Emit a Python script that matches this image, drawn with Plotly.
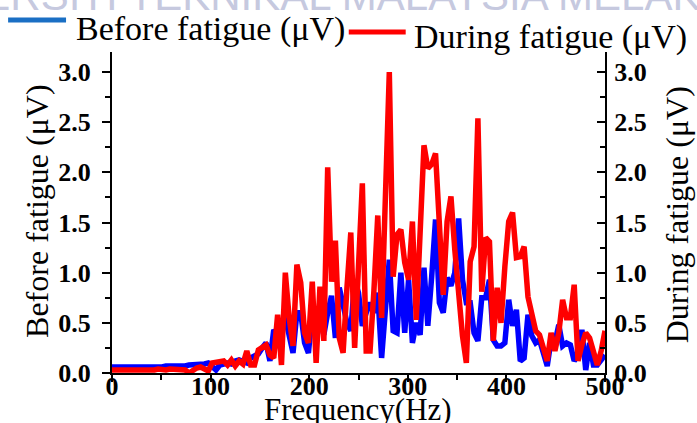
import numpy as np
import plotly.graph_objects as go

# ---------------- data ----------------
n_points = 129
frequency_hz = np.linspace(0, 500, n_points)

before_fatigue_uv = [
    0.06, 0.06, 0.05, 0.06, 0.06, 0.05, 0.06, 0.06, 0.05, 0.06,
    0.06, 0.06, 0.06, 0.06, 0.07, 0.07, 0.06, 0.07, 0.07, 0.07,
    0.08, 0.08, 0.08, 0.09, 0.09, 0.10, 0.06, 0.03, 0.08, 0.09,
    0.10, 0.09, 0.12, 0.13, 0.11, 0.10, 0.15, 0.17, 0.19, 0.25,
    0.30, 0.12, 0.43, 0.38, 0.45, 0.55, 0.37, 0.20, 0.60, 0.60,
    0.30, 0.20, 0.60, 0.50, 0.58, 0.38, 0.60, 0.77, 0.35, 0.85,
    0.68, 0.50, 0.42, 0.93, 0.80, 0.47, 0.60, 0.70, 0.60, 0.80,
    0.15, 0.63, 1.13, 0.42, 0.40, 1.00, 0.40, 0.93, 0.30, 0.50,
    0.38, 1.05, 0.47, 0.96, 1.53, 0.70, 0.60, 0.95, 0.87, 1.00,
    1.54, 0.93, 0.70, 0.70, 0.40, 0.32, 0.75, 0.75, 0.93, 0.33,
    0.27, 0.27, 0.30, 0.73, 0.47, 0.63, 0.12, 0.15, 0.58, 0.37,
    0.30, 0.33, 0.22, 0.07, 0.33, 0.30, 0.48, 0.27, 0.30, 0.28,
    0.12, 0.18, 0.43, 0.03, 0.30, 0.08, 0.08, 0.13, 0.18,
]

during_fatigue_uv = [
    0.03, 0.03, 0.03, 0.03, 0.02, 0.03, 0.03, 0.03, 0.03, 0.02,
    0.03, 0.03, 0.04, 0.03, 0.03, 0.04, 0.04, 0.03, 0.04, 0.03,
    0.00, 0.03, 0.05, 0.06, 0.04, 0.02, 0.10, 0.11, 0.11, 0.12,
    0.08, 0.13, 0.07, 0.12, 0.09, 0.22, 0.08, 0.08, 0.23, 0.25,
    0.28, 0.18, 0.15, 0.58, 0.08, 1.00, 0.55, 0.27, 1.08, 0.90,
    0.40, 0.30, 0.91, 0.10, 0.86, 0.32, 2.05, 0.91, 1.32, 0.35,
    0.20, 0.85, 1.40, 0.25, 1.05, 1.89, 0.22, 0.22, 0.82, 1.57,
    0.55, 1.70, 3.00, 0.96, 1.38, 1.43, 1.10, 0.93, 1.51, 0.53,
    1.40, 2.27, 2.04, 2.08, 2.19, 1.35, 0.78, 1.51, 1.76, 1.23,
    0.76, 0.37, 0.10, 1.11, 1.26, 2.54, 0.81, 1.35, 1.31, 0.32,
    0.85, 0.50, 1.06, 1.51, 1.60, 1.15, 1.16, 1.26, 0.76, 0.60,
    0.42, 0.38, 0.25, 0.12, 0.40, 0.22, 0.40, 0.73, 0.55, 0.55,
    0.88, 0.12, 0.28, 0.40, 0.35, 0.23, 0.08, 0.22, 0.42,
]

x_tick_values = [0, 100, 200, 300, 400, 500]
y_tick_values = [0.0, 0.5, 1.0, 1.5, 2.0, 2.5, 3.0]
label_before = "Before fatigue (\u03bcV)"
label_during = "During fatigue (\u03bcV)"
x_title = "Frequency(Hz)"
watermark = "UNIVERSITI TEKNIKAL MALAYSIA MELAKA"

# ---------------- layout geometry (pixels) ----------------
W, H = 697, 423
L, R, T, B = 112, 605.5, 52, 373.3
SERIF = "Liberation Serif, Times New Roman, serif"


def px(xp):
    return (xp - L) / (R - L)


def py(yp):
    return (B - yp) / (B - T)


fig = go.Figure()
fig.add_trace(go.Scatter(
    x=frequency_hz, y=before_fatigue_uv, mode="lines", name=label_before,
    line=dict(color="#0000ff", width=5.5), showlegend=False, yaxis="y"))
fig.add_trace(go.Scatter(
    x=frequency_hz, y=during_fatigue_uv, mode="lines", name=label_during,
    line=dict(color="#ff0000", width=5.5), showlegend=False, yaxis="y2"))

tickfont = dict(family=SERIF, size=26, color="black", weight="bold")
common_y = dict(range=[0, 3.2], tickvals=y_tick_values, tickformat=".1f",
                showgrid=False, zeroline=False, showline=True,
                linecolor="black", linewidth=2, tickwidth=2, ticklen=8,
                tickcolor="black", tickfont=tickfont, automargin=False)

fig.update_layout(
    width=W, height=H, template="none",
    paper_bgcolor="white", plot_bgcolor="white",
    margin=dict(l=L, r=W - R, t=T, b=H - B, pad=0),
    showlegend=False,
    xaxis=dict(range=[0, 500], tickvals=x_tick_values, showgrid=False,
               zeroline=False, showline=True, linecolor="black",
               linewidth=2, ticks="outside", ticklen=7, tickwidth=2,
               tickcolor="black", tickfont=tickfont, automargin=False,
               ticklabelstandoff=-18,
               minor=dict(dtick=50, ticks="outside", ticklen=5,
                          tickwidth=1.5, tickcolor="black", showgrid=False)),
    yaxis=dict(**common_y, ticks="outside", side="left",
               ticklabelstandoff=6,
               minor=dict(dtick=0.25, ticks="outside", ticklen=5,
                          tickwidth=1.5, tickcolor="black", showgrid=False)),
    yaxis2=dict(**common_y, ticks="inside", side="right", overlaying="y",
                ticklabelstandoff=2,
                minor=dict(dtick=0.25, ticks="inside", ticklen=5,
                           tickwidth=1.5, tickcolor="black", showgrid=False)),
)

annotations = [
    # watermark (cut by the top edge, as in the source)
    dict(text=watermark, x=px(-120), y=py(21), xanchor="left",
         yanchor="bottom", showarrow=False,
         font=dict(family="Liberation Sans, Arial, sans-serif", size=42,
                   color="#c6c9df")),
    dict(text=label_before, x=px(74), y=py(29), xanchor="left",
         yanchor="middle", showarrow=False,
         font=dict(family=SERIF, size=34, color="black")),
    dict(text=label_during, x=px(412), y=py(37), xanchor="left",
         yanchor="middle", showarrow=False,
         font=dict(family=SERIF, size=34, color="black")),
    dict(text=label_before, x=px(37), y=py(212), xanchor="center",
         yanchor="middle", textangle=-90, showarrow=False,
         font=dict(family=SERIF, size=32, color="black")),
    dict(text=label_during, x=px(677), y=py(215), xanchor="center",
         yanchor="middle", textangle=-90, showarrow=False,
         font=dict(family=SERIF, size=32, color="black")),
    dict(text=x_title, x=px(358), y=py(410), xanchor="center",
         yanchor="middle", showarrow=False,
         font=dict(family=SERIF, size=31, color="black")),
]
for a in annotations:
    a.update(xref="paper", yref="paper")
fig.update_layout(annotations=annotations)

fig.update_layout(shapes=[
    dict(type="line", xref="paper", yref="paper", x0=px(8), x1=px(66),
         y0=py(20), y1=py(20), line=dict(color="#1a6fc4", width=5)),
    dict(type="line", xref="paper", yref="paper", x0=px(349), x1=px(406),
         y0=py(32), y1=py(32), line=dict(color="#ff0000", width=5)),
])

fig.write_html("out.html")
